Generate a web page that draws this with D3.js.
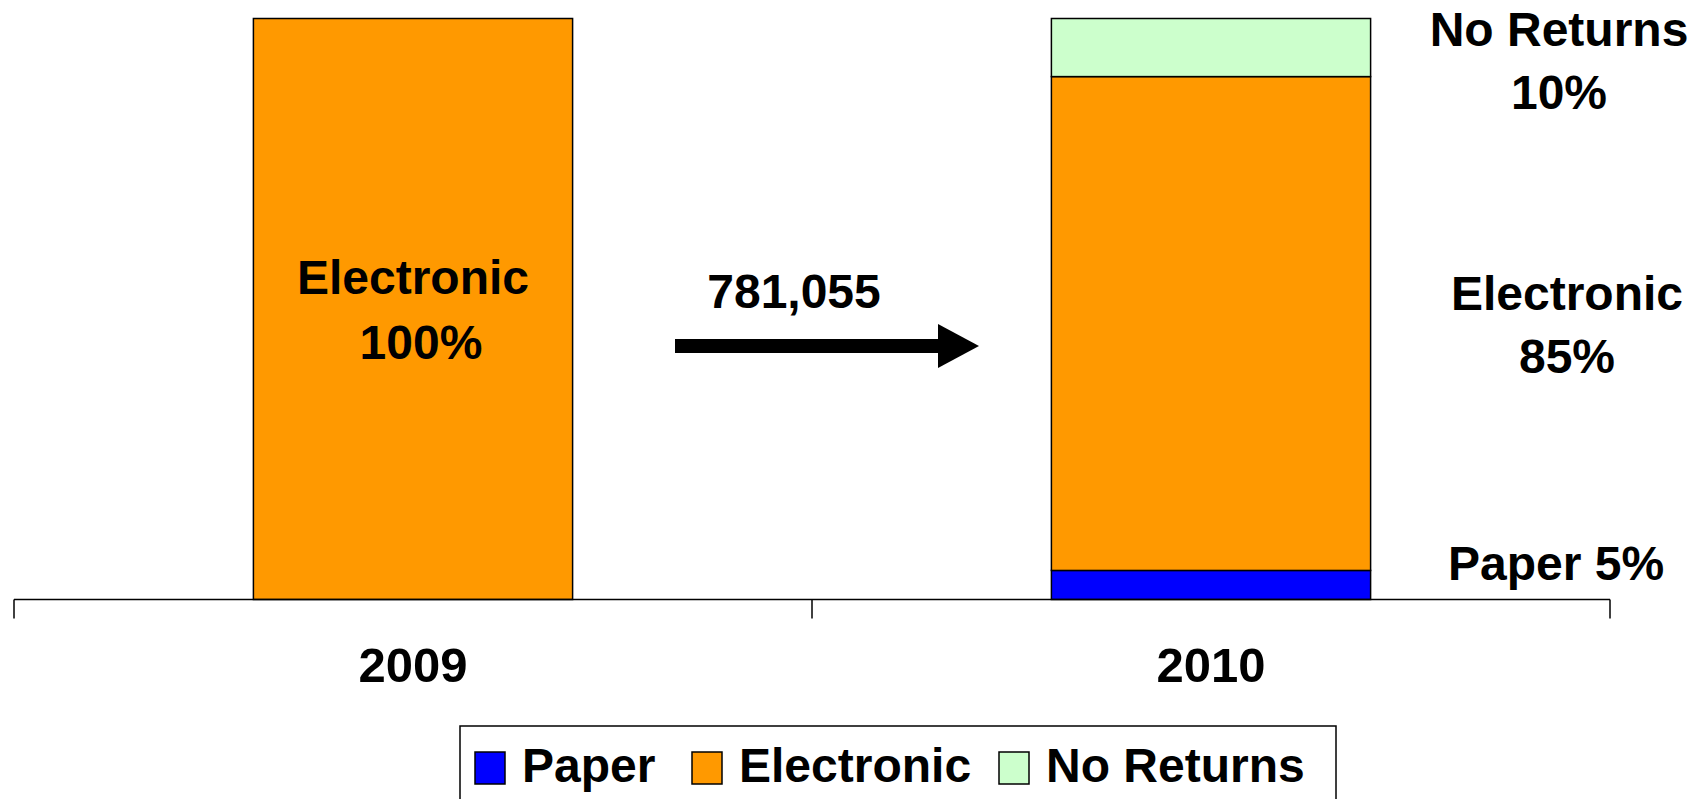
<!DOCTYPE html>
<html>
<head>
<meta charset="utf-8">
<script src="https://cdn.jsdelivr.net/npm/d3@7"></script>
<style>
  body { margin: 0; background: #fff; }
  text { font-family: Arial, "Liberation Sans", sans-serif; font-weight: bold; fill: #000; }
</style>
</head>
<body>
<div id="chart"></div>
<script>
// data
var categories = ["2009", "2010"];
var paper = [0, 5];
var electronic = [100, 85];
var noReturns = [0, 10];
var seriesNames = ["Paper", "Electronic", "No Returns"];
var seriesColors = ["#0000FF", "#FF9900", "#CCFFCC"];
var transferLabel = "781,055";

var width = 1706, height = 799;

var svg = d3.select("#chart").append("svg")
    .attr("width", width)
    .attr("height", height);

var x = d3.scaleBand()
    .domain(categories)
    .range([14, 1610]);

var y = d3.scaleLinear()
    .domain([0, 100])
    .range([599.5, 18.5]);

var barWidth = x.bandwidth() * 0.4;

var rows = categories.map(function (c, i) {
    return { year: c, "Paper": paper[i], "Electronic": electronic[i], "No Returns": noReturns[i] };
});

var stacked = d3.stack().keys(seriesNames)(rows);

// bars
var layers = svg.selectAll("g.layer")
    .data(stacked)
    .enter().append("g")
    .attr("class", "layer")
    .attr("fill", function (d, i) { return seriesColors[i]; });

layers.selectAll("rect")
    .data(function (d) { return d.filter(function (s) { return s[1] - s[0] > 0; }); })
    .enter().append("rect")
    .attr("x", function (d) { return x(d.data.year) + (x.bandwidth() - barWidth) / 2; })
    .attr("y", function (d) { return y(d[1]); })
    .attr("width", barWidth)
    .attr("height", function (d) { return y(d[0]) - y(d[1]); })
    .attr("stroke", "#000")
    .attr("stroke-width", 1.5);

// category axis with ticks at band edges
var axisY = y(0);
svg.append("line")
    .attr("x1", x.range()[0]).attr("x2", x.range()[1])
    .attr("y1", axisY).attr("y2", axisY)
    .attr("stroke", "#000").attr("stroke-width", 1.5);

var tickPos = categories.map(function (c) { return x(c); }).concat([x.range()[1]]);
svg.selectAll("line.tick")
    .data(tickPos)
    .enter().append("line")
    .attr("class", "tick")
    .attr("x1", function (d) { return d; }).attr("x2", function (d) { return d; })
    .attr("y1", axisY).attr("y2", axisY + 19)
    .attr("stroke", "#000").attr("stroke-width", 1.5);

svg.selectAll("text.cat")
    .data(categories)
    .enter().append("text")
    .attr("class", "cat")
    .attr("x", function (d) { return x(d) + x.bandwidth() / 2; })
    .attr("y", axisY + 82)
    .attr("text-anchor", "middle")
    .attr("font-size", 49)
    .text(function (d) { return d; });

// label inside 2009 bar
var cx2009 = x(categories[0]) + x.bandwidth() / 2;
svg.append("text")
    .attr("x", cx2009).attr("y", 294)
    .attr("text-anchor", "middle").attr("font-size", 48)
    .text("Electronic");
svg.append("text")
    .attr("x", cx2009 + 8).attr("y", 359)
    .attr("text-anchor", "middle").attr("font-size", 48)
    .text(electronic[0] + "%");

// arrow between bars
var arrowY = 346;
svg.append("rect")
    .attr("x", 675).attr("y", arrowY - 7)
    .attr("width", 265).attr("height", 14)
    .attr("fill", "#000");
svg.append("path")
    .attr("d", "M938," + (arrowY - 22) + "L979," + arrowY + "L938," + (arrowY + 22) + "Z")
    .attr("fill", "#000");
svg.append("text")
    .attr("x", 794).attr("y", 308)
    .attr("text-anchor", "middle").attr("font-size", 48)
    .text(transferLabel);

// labels to the right of the 2010 bar
var rightLabels = [
    { lines: ["No Returns", noReturns[1] + "%"], x: 1559, y: 46 },
    { lines: ["Electronic", electronic[1] + "%"], x: 1567, y: 310 },
    { lines: ["Paper " + paper[1] + "%"], x: 1556, y: 580 }
];
rightLabels.forEach(function (l) {
    l.lines.forEach(function (t, i) {
        svg.append("text")
            .attr("x", l.x).attr("y", l.y + i * 63)
            .attr("text-anchor", "middle").attr("font-size", 48)
            .text(t);
    });
});

// legend
var legend = svg.append("g");
legend.append("rect")
    .attr("x", 460).attr("y", 726)
    .attr("width", 876).attr("height", 90)
    .attr("fill", "#fff").attr("stroke", "#000").attr("stroke-width", 1.5);

var legendX = [475, 692, 999];
seriesNames.forEach(function (name, i) {
    legend.append("rect")
        .attr("x", legendX[i]).attr("y", 752)
        .attr("width", 30).attr("height", 32)
        .attr("fill", seriesColors[i]).attr("stroke", "#000").attr("stroke-width", 1.5);
    legend.append("text")
        .attr("x", legendX[i] + 47).attr("y", 782)
        .attr("font-size", 48)
        .text(name);
});
</script>
</body>
</html>
